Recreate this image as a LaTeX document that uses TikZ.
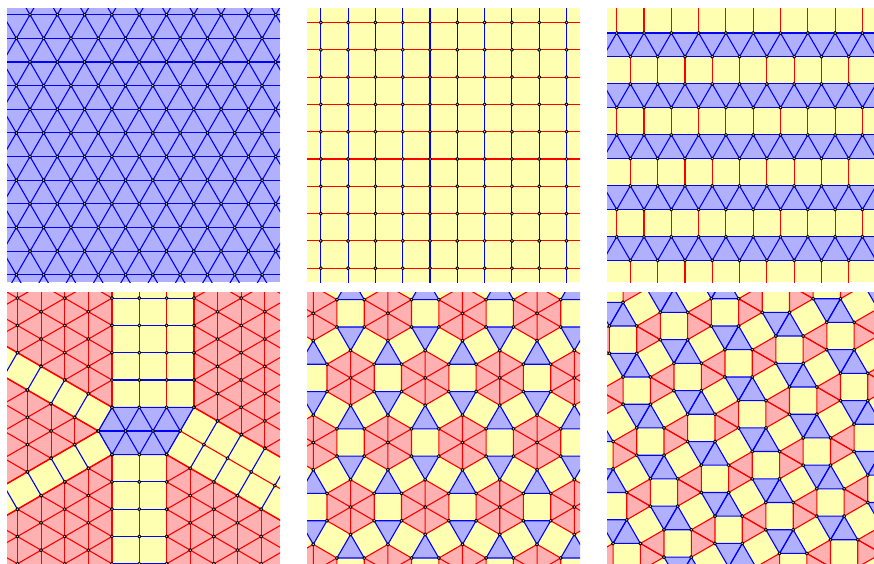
\documentclass[tikz,border=0pt]{standalone}
\usetikzlibrary{calc}
\definecolor{fillB}{RGB}{176,176,255}
\definecolor{fillY}{RGB}{255,255,178}
\definecolor{fillR}{RGB}{255,176,176}
\definecolor{edgeB}{RGB}{0,0,255}
\definecolor{edgeR}{RGB}{255,0,0}
\tikzset{
  eb/.style={draw=edgeB,line width=1.1pt},
  er/.style={draw=edgeR,line width=1.1pt},
  erb/.style={draw=edgeR,line width=1.5pt},
  vtx/.style={draw=black,fill=white!85!black,line width=0.85pt},
}
\newcommand\Vd[2]{\draw[vtx] ({#1},{#2}) circle[radius=1.6pt];}
\newcommand\RegLat[4]{%
  \foreach \n in {#3,...,#4}{\draw[er] ({#1+(\n)*23.642},{#2-700}) -- ({#1+(\n)*23.642},{#2+700});}%
  \foreach \m in {-16,...,16}{%
    \draw[er] ({#1-303.1},{#2+(\m)*27.3-175}) -- ({#1+303.1},{#2+(\m)*27.3+175});%
    \draw[er] ({#1-303.1},{#2+(\m)*27.3+175}) -- ({#1+303.1},{#2+(\m)*27.3-175});}%
}
\newcommand\RegDots[4]{\foreach \n in {#3,...,#4}{\foreach \m in {-10,...,10}{\Vd{#1+(\n)*23.642}{#2+(\m)*27.3+(\n)*13.65}}}}
\newcommand\HexLoop[1]{\foreach \i in {-4,...,5}{\foreach \j in {-1,...,4}{%
  \pgfmathsetmacro\cx{313.3+(\i)*74.585+(\j)*37.292}%
  \pgfmathsetmacro\cy{313.3+(\j)*64.592}%
  \begin{scope}[shift={(\cx,\cy)}]#1\end{scope}}}}
\newcommand\CellLoop[1]{\foreach \i in {-4,...,5}{\foreach \j in {-3,...,6}{%
  \pgfmathsetmacro\qx{674+(\i)*50.942+(\j)*13.65}%
  \pgfmathsetmacro\qy{363.3-(\i)*13.65+(\j)*50.942}%
  \begin{scope}[shift={(\qx,\qy)}]#1\end{scope}}}}
\begin{document}
\begin{tikzpicture}[x=1pt,y=-1pt,line join=round]
\useasboundingbox (0,0) rectangle (874,563);
\fill[white] (0,0) rectangle (874,563);

% ---------- Panel 1: triangular lattice ----------
\begin{scope}
\clip (7,8) rectangle (280,282);
\fill[fillB] (7,8) rectangle (280,282);
\foreach \j in {0,...,11}{\draw[eb] (0,{14.7+\j*23.642}) -- (290,{14.7+\j*23.642});}
\foreach \k in {-7,...,17}{
  \draw[eb] ({30+(\k)*27.3-8.487},0) -- ({30+(\k)*27.3+158.95},290);
  \draw[eb] ({30+(\k)*27.3+8.487},0) -- ({30+(\k)*27.3-158.95},290);
}
\foreach \j in {0,...,11}{\foreach \k in {-1,...,10}{%
  \pgfmathsetmacro\xx{30+(\k)*27.3-mod(\j,2)*13.65}%
  \Vd{\xx}{14.7+\j*23.642}}}
\end{scope}

% ---------- Panel 2: square lattice ----------
\begin{scope}
\clip (307,8) rectangle (580,282);
\fill[fillY] (307,8) rectangle (580,282);
\foreach \k in {0,...,9}{\draw[er] (300,{22.5+\k*27.3}) -- (590,{22.5+\k*27.3});}
\foreach \k in {0,...,9}{\draw[eb] ({320.8+\k*27.3},0) -- ({320.8+\k*27.3},290);}
\foreach \k in {0,...,9}{\foreach \l in {0,...,9}{\Vd{320.8+\k*27.3}{22.5+\l*27.3}}}
\end{scope}

% ---------- Panel 3: strips ----------
\begin{scope}
\clip (607,8) rectangle (874,282);
\fill[fillY] (607,8) rectangle (874,282);
\foreach \s in {0,...,4}{
  \pgfmathsetmacro\yt{33+\s*50.942}
  \pgfmathsetmacro\ot{616.7+mod(\s,2)*13.65}
  \fill[fillB] (600,\yt) rectangle (880,{\yt+23.642});
  \foreach \m in {-1,...,10}{\draw[er] ({\ot+\m*27.3},{\yt-27.3}) -- ({\ot+\m*27.3},\yt);}
  \foreach \m in {-1,...,10}{
    \draw[eb] ({\ot+\m*27.3},\yt) -- ({\ot+\m*27.3+13.65},{\yt+23.642});
    \draw[eb] ({\ot+\m*27.3},\yt) -- ({\ot+\m*27.3-13.65},{\yt+23.642});}
  \draw[eb] (600,\yt) -- (880,\yt);
  \draw[eb] (600,{\yt+23.642}) -- (880,{\yt+23.642});
}
\foreach \m in {-1,...,10}{\draw[er] ({630.35+\m*27.3},260.41) -- ({630.35+\m*27.3},290);}
\foreach \s in {0,...,4}{
  \pgfmathsetmacro\yt{33+\s*50.942}
  \pgfmathsetmacro\ot{616.7+mod(\s,2)*13.65}
  \pgfmathsetmacro\ob{630.35-mod(\s,2)*13.65}
  \foreach \m in {-1,...,10}{\Vd{\ot+\m*27.3}{\yt}\Vd{\ob+\m*27.3}{\yt+23.642}}
}
\end{scope}

% ---------- Panel 4: defect with strips ----------
\begin{scope}
\clip (7,292) rectangle (280,563);
\fill[fillR] (7,292) rectangle (280,565);
\fill[fillY] (112,407.3) rectangle (193.9,280);
\fill[fillY] (193.9,407.3) -- (166.6,454.584) -- (426.41,604.584) -- (453.71,557.3) -- cycle;
\fill[fillY] (112,454.584) rectangle (166.6,580);
\fill[fillY] (98.35,430.942) -- (112,454.584) -- (-147.81,604.584) -- (-161.46,580.942) -- cycle;
\fill[fillY] (98.35,430.942) -- (112,407.3) -- (-147.81,257.3) -- (-161.46,280.942) -- cycle;
\fill[fillB] (112,407.3) -- (193.9,407.3) -- (166.6,454.584) -- (112,454.584) -- (98.35,430.942) -- cycle;
% red triangular regions
\begin{scope}\clip (112,407.3) -- (112,-192.7) -- (-407.615,107.3) -- cycle; \RegLat{112}{407.3}{-5}{0}\end{scope}
\begin{scope}\clip (98.35,430.942) -- (-421.265,130.942) -- (-421.265,730.942) -- cycle; \RegLat{98.35}{430.942}{-4}{0}\end{scope}
\begin{scope}\clip (112,454.584) -- (-407.615,754.584) -- (112,1054.584) -- cycle; \RegLat{112}{454.584}{-5}{0}\end{scope}
\begin{scope}\clip (166.6,454.584) -- (166.6,1054.584) -- (686.215,754.584) -- cycle; \RegLat{166.6}{454.584}{0}{5}\end{scope}
\begin{scope}\clip (193.9,407.3) -- (193.9,-192.7) -- (793.9,-192.7) -- (793.9,753.71) -- cycle; \RegLat{193.9}{407.3}{0}{4}\end{scope}
% top strip
\foreach \m in {1,2}{\draw[er] ({112+\m*27.3},407.3) -- ({112+\m*27.3},280);}
\draw[erb] (112,407.3) -- (112,280); \draw[erb] (193.9,407.3) -- (193.9,280);
\foreach \k in {1,...,5}{\draw[eb] (112,{407.3-\k*27.3}) -- (193.9,{407.3-\k*27.3});}
% right strip
\draw[er] (180.25,430.942) -- (440.06,580.942);
\draw[erb] (193.9,407.3) -- (453.71,557.3); \draw[erb] (166.6,454.584) -- (426.41,604.584);
\foreach \k in {1,...,6}{\draw[eb] ({193.9+\k*23.642},{407.3+\k*13.65}) -- ({166.6+\k*23.642},{454.584+\k*13.65});}
% bottom strip
\draw[er] (139.3,454.584) -- (139.3,580);
\draw[erb] (112,454.584) -- (112,580); \draw[erb] (166.6,454.584) -- (166.6,580);
\foreach \k in {1,...,5}{\draw[eb] (112,{454.584+\k*27.3}) -- (166.6,{454.584+\k*27.3});}
% lower-left strip
\draw[erb] (98.35,430.942) -- (-161.46,580.942); \draw[erb] (112,454.584) -- (-147.81,604.584);
\foreach \k in {1,...,5}{\draw[eb] ({98.35-\k*23.642},{430.942+\k*13.65}) -- ({112-\k*23.642},{454.584+\k*13.65});}
% upper-left strip
\draw[erb] (98.35,430.942) -- (-161.46,280.942); \draw[erb] (112,407.3) -- (-147.81,257.3);
\foreach \k in {1,...,5}{\draw[eb] ({98.35-\k*23.642},{430.942-\k*13.65}) -- ({112-\k*23.642},{407.3-\k*13.65});}
% central blue patch
\begin{scope}\clip (112,407.3) -- (193.9,407.3) -- (166.6,454.584) -- (112,454.584) -- (98.35,430.942) -- cycle;
\draw[eb] (90,430.942) -- (200,430.942);
\foreach \m in {-3,...,6}{
  \draw[eb] ({112+\m*27.3-40.95},{407.3-70.926}) -- ({112+\m*27.3+40.95},{407.3+70.926});
  \draw[eb] ({112+\m*27.3+40.95},{407.3-70.926}) -- ({112+\m*27.3-40.95},{407.3+70.926});}
\end{scope}
\draw[eb] (112,407.3) -- (193.9,407.3) -- (166.6,454.584) -- (112,454.584) -- (98.35,430.942) -- cycle;
% vertices
\begin{scope}\clip (112,407.3) -- (112,-192.7) -- (-407.615,107.3) -- cycle; \RegDots{112}{407.3}{-5}{0}\end{scope}
\begin{scope}\clip (98.35,430.942) -- (-421.265,130.942) -- (-421.265,730.942) -- cycle; \RegDots{98.35}{430.942}{-4}{0}\end{scope}
\begin{scope}\clip (112,454.584) -- (-407.615,754.584) -- (112,1054.584) -- cycle; \RegDots{112}{454.584}{-5}{0}\end{scope}
\begin{scope}\clip (166.6,454.584) -- (166.6,1054.584) -- (686.215,754.584) -- cycle; \RegDots{166.6}{454.584}{0}{5}\end{scope}
\begin{scope}\clip (193.9,407.3) -- (193.9,-192.7) -- (793.9,-192.7) -- (793.9,753.71) -- cycle; \RegDots{193.9}{407.3}{0}{4}\end{scope}
\foreach \k in {0,...,5}{\foreach \m in {0,...,3}{\Vd{112+\m*27.3}{407.3-\k*27.3}}}
\foreach \k in {0,...,6}{\foreach \m in {0,1,2}{\Vd{193.9-\m*13.65+\k*23.642}{407.3+\m*23.642+\k*13.65}}}
\foreach \k in {0,...,5}{\foreach \m in {0,1,2}{\Vd{112+\m*27.3}{454.584+\k*27.3}}}
\foreach \k in {0,...,5}{\foreach \m in {0,1}{\Vd{98.35+\m*13.65-\k*23.642}{430.942+\m*23.642+\k*13.65}}}
\foreach \k in {0,...,5}{\foreach \m in {0,1}{\Vd{98.35+\m*13.65-\k*23.642}{430.942-\m*23.642-\k*13.65}}}
\Vd{125.65}{430.942}\Vd{152.95}{430.942}
\end{scope}

% ---------- Panel 5: hexagons, squares, triangles ----------
\begin{scope}
\clip (307,292) rectangle (580,563);
\HexLoop{%
  \fill[fillR] (0,-27.3) -- (23.642,-13.65) -- (23.642,13.65) -- (0,27.3) -- (-23.642,13.65) -- (-23.642,-13.65) -- cycle;
  \fill[fillY] (23.642,-13.65) -- (50.942,-13.65) -- (50.942,13.65) -- (23.642,13.65) -- cycle;
  \fill[fillY] (23.642,13.65) -- (0,27.3) -- (13.65,50.942) -- (37.292,37.292) -- cycle;
  \fill[fillY] (0,27.3) -- (-23.642,13.65) -- (-37.292,37.292) -- (-13.65,50.942) -- cycle;
  \fill[fillB] (23.642,13.65) -- (50.942,13.65) -- (37.292,37.292) -- cycle;
  \fill[fillB] (0,27.3) -- (13.65,50.942) -- (-13.65,50.942) -- cycle;}
\HexLoop{%
  \draw[eb] (23.642,13.65) -- (50.942,13.65) -- (37.292,37.292) -- cycle;
  \draw[eb] (0,27.3) -- (13.65,50.942) -- (-13.65,50.942) -- cycle;}
\HexLoop{%
  \draw[er] (0,-27.3) -- (23.642,-13.65) -- (23.642,13.65) -- (0,27.3) -- (-23.642,13.65) -- (-23.642,-13.65) -- cycle;
  \draw[er] (0,-27.3) -- (0,27.3) (23.642,-13.65) -- (-23.642,13.65) (23.642,13.65) -- (-23.642,-13.65);}
\HexLoop{%
  \foreach \vx/\vy in {0/-27.3,23.642/-13.65,23.642/13.65,0/27.3,-23.642/13.65,-23.642/-13.65,0/0}{\draw[vtx] (\vx,\vy) circle[radius=1.6pt];}}
\end{scope}

% ---------- Panel 6: snub square tiling ----------
\begin{scope}
\clip (607,292) rectangle (874,563);
\CellLoop{%
  \fill[fillY] (0,0) rectangle (27.3,27.3);
  \fill[fillY] (27.3,27.3) -- (50.942,13.65) -- (64.592,37.292) -- (40.95,50.942) -- cycle;
  \fill[fillR] (27.3,0) -- (27.3,27.3) -- (50.942,13.65) -- cycle;
  \fill[fillR] (27.3,0) -- (50.942,-13.65) -- (50.942,13.65) -- cycle;
  \fill[fillB] (0,27.3) -- (27.3,27.3) -- (13.65,50.942) -- cycle;
  \fill[fillB] (27.3,27.3) -- (40.95,50.942) -- (13.65,50.942) -- cycle;}
\CellLoop{%
  \draw[eb] (0,27.3) -- (27.3,27.3) -- (13.65,50.942) -- cycle;
  \draw[eb] (27.3,27.3) -- (40.95,50.942) -- (13.65,50.942) -- cycle;}
\CellLoop{%
  \draw[er] (27.3,0) -- (27.3,27.3) -- (50.942,13.65) -- cycle;
  \draw[er] (27.3,0) -- (50.942,-13.65) -- (50.942,13.65) -- cycle;}
\CellLoop{%
  \foreach \vx/\vy in {0/0,27.3/0,27.3/27.3,0/27.3}{\draw[vtx] (\vx,\vy) circle[radius=1.6pt];}}
\end{scope}
\end{tikzpicture}
\end{document}
